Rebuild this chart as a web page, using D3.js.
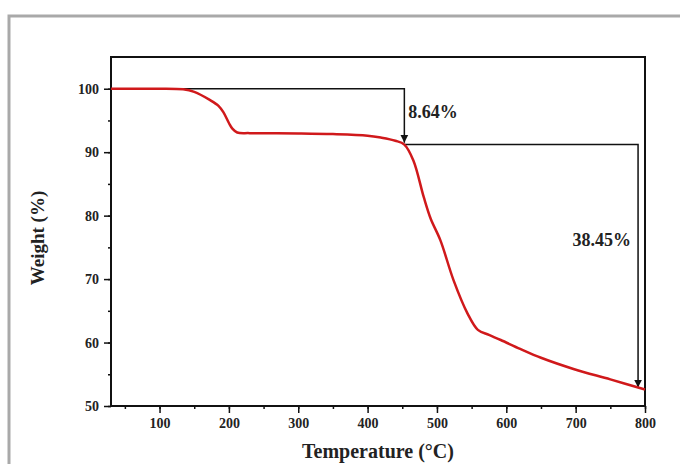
<!DOCTYPE html>
<html>
<head>
<meta charset="utf-8">
<script src="https://cdn.jsdelivr.net/npm/d3@7"></script>
<style>
  body { margin: 0; background: #fff; }
  text { font-family: "Liberation Serif", "Times New Roman", serif; font-weight: bold; fill: #222; }
</style>
</head>
<body>
<div id="chart"></div>
<script>
// TGA curve
var temperature = [30, 60, 100, 134, 150, 173, 185, 192, 200, 205, 212, 230, 300, 350, 400, 419, 440, 453, 466, 481, 491, 505, 524, 544, 559, 575, 592, 620, 650, 698, 750, 800];
var weight      = [100, 100, 100, 99.9, 99.5, 98.2, 97.3, 96.3, 94.6, 93.7, 93.1, 93.0, 92.95, 92.85, 92.6, 92.3, 91.8, 91.2, 88.7, 82.9, 79.5, 76.1, 69.8, 64.6, 62.0, 61.2, 60.4, 59.0, 57.6, 55.8, 54.2, 52.6];

var xTicks = [100, 200, 300, 400, 500, 600, 700, 800];
var yTicks = [50, 60, 70, 80, 90, 100];

// annotation arrows: start, corner, level and end of each step
var steps = [
  { x0: 30, x1: 453, level: 100, end: 91.5, label: "8.64%" },
  { x0: 453, x1: 790, level: 91.2, end: 52.9, label: "38.45%" }
];

var svgWidth = 680;
var svgHeight = 464;

var margin = { top: 57, right: 35, bottom: 58, left: 111 };
var width = svgWidth - margin.left - margin.right;
var height = svgHeight - margin.top - margin.bottom;

var svg = d3.select("#chart")
  .append("svg")
  .attr("width", svgWidth)
  .attr("height", svgHeight);

// grey outer frame, runs off the right and bottom edges
svg.append("rect")
  .attr("x", 9)
  .attr("y", 16)
  .attr("width", 700)
  .attr("height", 500)
  .attr("fill", "none")
  .attr("stroke", "#a9a9a9")
  .attr("stroke-width", 3);

svg.append("defs").append("marker")
  .attr("id", "arrow")
  .attr("viewBox", "0 0 10 10")
  .attr("refX", 10)
  .attr("refY", 5)
  .attr("markerWidth", 8)
  .attr("markerHeight", 10)
  .attr("markerUnits", "userSpaceOnUse")
  .attr("orient", "auto")
  .append("path")
  .attr("d", "M0,0 L10,5 L0,10 Z")
  .attr("fill", "#111");

var chartGroup = svg.append("g")
  .attr("transform", `translate(${margin.left}, ${margin.top})`);

var xScale = d3.scaleLinear().domain([30, 800]).range([0, width]);
var yScale = d3.scaleLinear().domain([50, 105]).range([height, 0]);

// minor ticks
var xMinor = d3.range(50, 801, 50);
var yMinor = d3.range(50, 105, 5);

var bottomMinor = d3.axisBottom(xScale).tickValues(xMinor).tickSize(3).tickFormat("");
var leftMinor = d3.axisLeft(yScale).tickValues(yMinor).tickSize(3).tickFormat("");

chartGroup.append("g")
  .attr("transform", `translate(0, ${height})`)
  .call(bottomMinor)
  .call(g => g.select(".domain").remove())
  .call(g => g.selectAll("line").attr("stroke", "#111").attr("stroke-width", 1.5));

chartGroup.append("g")
  .call(leftMinor)
  .call(g => g.select(".domain").remove())
  .call(g => g.selectAll("line").attr("stroke", "#111").attr("stroke-width", 1.5));

var bottomAxis = d3.axisBottom(xScale).tickValues(xTicks).tickSize(7).tickPadding(5);
var leftAxis = d3.axisLeft(yScale).tickValues(yTicks).tickSize(7).tickPadding(5);

chartGroup.append("g")
  .attr("transform", `translate(0, ${height})`)
  .call(bottomAxis)
  .call(g => g.select(".domain").remove())
  .call(g => g.selectAll("line").attr("stroke", "#111").attr("stroke-width", 1.5))
  .call(g => g.selectAll("text").style("font-size", "14px").attr("fill", "#222"));

chartGroup.append("g")
  .call(leftAxis)
  .call(g => g.select(".domain").remove())
  .call(g => g.selectAll("line").attr("stroke", "#111").attr("stroke-width", 1.5))
  .call(g => g.selectAll("text").style("font-size", "14px").attr("fill", "#222"));

// plot frame
chartGroup.append("rect")
  .attr("width", width)
  .attr("height", height)
  .attr("fill", "none")
  .attr("stroke", "#111")
  .attr("stroke-width", 2);

// annotation lines
steps.forEach(function(s) {
  chartGroup.append("path")
    .attr("d", d3.line()([
      [xScale(s.x0), yScale(s.level)],
      [xScale(s.x1), yScale(s.level)],
      [xScale(s.x1), yScale(s.end)]
    ]))
    .attr("fill", "none")
    .attr("stroke", "#111")
    .attr("stroke-width", 1.5)
    .attr("marker-end", "url(#arrow)");
});

// TGA curve
var data = temperature.map((t, i) => [t, weight[i]]);
chartGroup.append("path")
  .datum(data)
  .attr("d", d3.line()
    .x(d => xScale(d[0]))
    .y(d => yScale(d[1]))
    .curve(d3.curveCatmullRom.alpha(0.5)))
  .attr("fill", "none")
  .attr("stroke", "#d0191b")
  .attr("stroke-width", 2.5);

// step labels
chartGroup.append("text")
  .attr("x", xScale(steps[0].x1) + 4)
  .attr("y", yScale(95.4))
  .style("font-size", "18px")
  .text(steps[0].label);

chartGroup.append("text")
  .attr("x", xScale(steps[1].x1) - 7)
  .attr("y", yScale(75.2))
  .attr("text-anchor", "end")
  .style("font-size", "18px")
  .text(steps[1].label);

// axis titles
svg.append("text")
  .attr("x", margin.left + width / 2)
  .attr("y", 458)
  .attr("text-anchor", "middle")
  .style("font-size", "20px")
  .text("Temperature (\u00B0C)");

svg.append("text")
  .attr("transform", "rotate(-90)")
  .attr("x", -238)
  .attr("y", 44)
  .attr("text-anchor", "middle")
  .style("font-size", "19px")
  .text("Weight (%)");
</script>
</body>
</html>
